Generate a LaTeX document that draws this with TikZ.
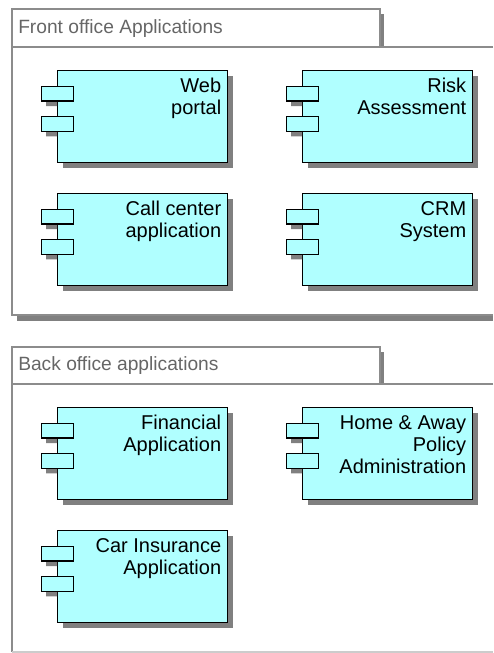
\documentclass[tikz,border=0pt]{standalone}
\usepackage{fontspec}
\setmainfont{Liberation Sans}
\usetikzlibrary{shadows}
\definecolor{compfill}{HTML}{B0FFFF}
\definecolor{pkgline}{HTML}{8C8C8C}
\definecolor{shadowgray}{HTML}{808080}
\definecolor{titlegray}{HTML}{666666}
\begin{document}
\begin{tikzpicture}[x=0.75pt, y=-0.75pt,
  pkg/.style={draw=pkgline, line width=1.1pt},
  pkgshadow/.style={fill=shadowgray},
  pkgtitle/.style={anchor=base west, inner sep=0pt, text=titlegray,
    font=\fontsize{14.4}{16}\selectfont},
  comp/.style={draw=black, line width=1.1pt, fill=compfill,
    anchor=north west, inner sep=0pt,
    minimum width=127.5pt, minimum height=69pt,
    general shadow={fill=shadowgray, shadow xshift=3.75pt, shadow yshift=-3.75pt}},
  port/.style={draw=black, line width=1.1pt, fill=compfill,
    anchor=north west, inner sep=0pt,
    minimum width=24pt, minimum height=10.9pt},
  comptext/.style={anchor=north east, align=right, inner sep=0pt,
    font=\fontsize{15}{16.5}\selectfont}]
\useasboundingbox (0,0) rectangle (493,653);

% front office package
\fill[pkgshadow] (381,14) rectangle (384,47);
\draw[pkg] (12,9) rectangle (380,47);
\node[pkgtitle] (front-title) at (18,33) {Front office Applications};
\fill[pkgshadow] (17,316) rectangle (493,321);
\draw[pkg] (493,47) -- (12,47) -- (12,315) -- (493,315);

% back office package
\fill[pkgshadow] (381,352) rectangle (384,384);
\draw[pkg] (12,347) rectangle (380,384);
\node[pkgtitle] (back-title) at (18,370) {Back office applications};
\draw[pkg] (493,384) -- (12,384) -- (12,652);
\draw[draw=black!20, line width=1.1pt] (12,652) -- (493,652);

% components
\foreach \cname/\x/\y/\ctext in {web/57/70/{Web\\portal},
    risk/302/70/{Risk\\Assessment},
    call/57/193/{Call center\\application},
    crm/302/193/{CRM\\System},
    fin/57/407/{Financial\\Application},
    home/302/407/{Home \& Away\\Policy\\Administration},
    car/57/530/{Car Insurance\\Application}}
{
  \node[comp] (\cname) at (\x,\y) {};
  \fill[pkgshadow] (\x-11,\y+20.7) rectangle (\x,\y+36)
    (\x-11,\y+51) rectangle (\x,\y+66.3);
  \node[port] (\cname-a) at (\x-16,\y+15.7) {};
  \node[port] (\cname-b) at (\x-16,\y+46) {};
  \node[comptext] (\cname-text) at ([xshift=-5.25pt,yshift=-6pt]\cname.north east) {\ctext};
}
\end{tikzpicture}
\end{document}
